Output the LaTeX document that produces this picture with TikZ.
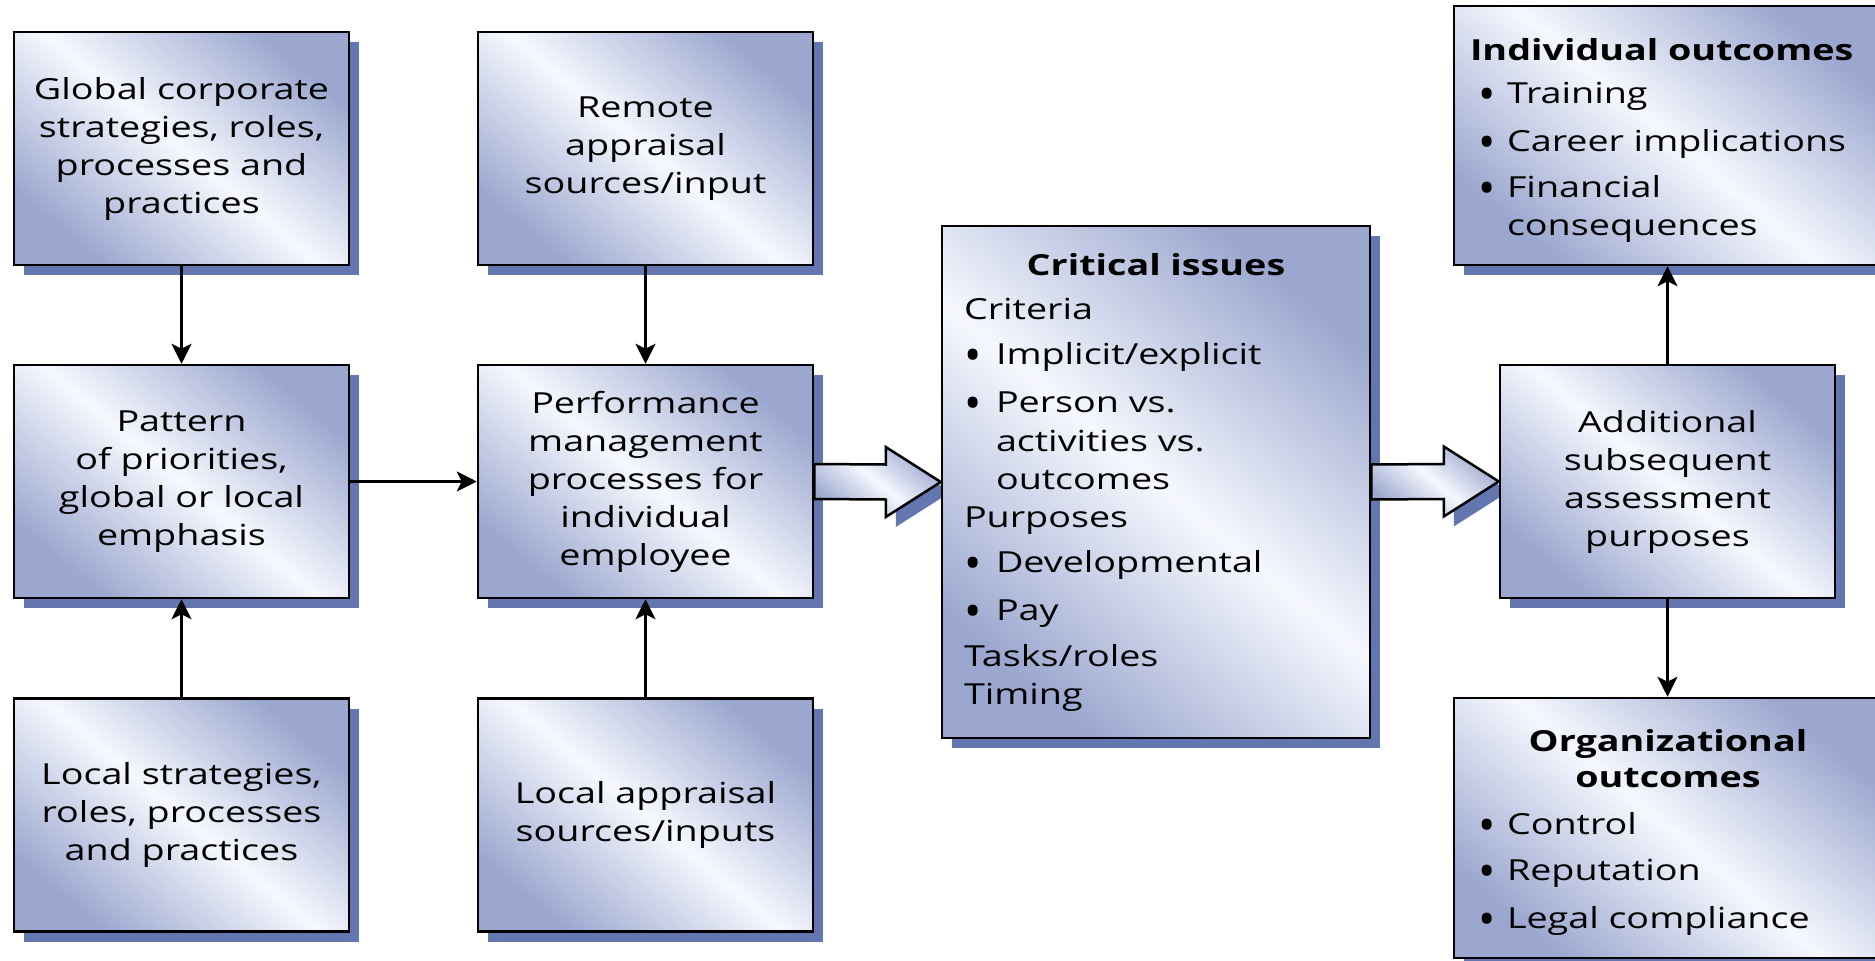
\documentclass[tikz,border=0pt]{standalone}
\usepackage{fontspec}
\setmainfont{Open Sans}[FakeStretch=1.3]
\newfontfamily\bulletfont{Open Sans}
\usetikzlibrary{arrows.meta,shadows,calc}

\definecolor{boxblue}{RGB}{155,167,207}
\definecolor{boxlight}{RGB}{246,248,254}
\definecolor{shadowblue}{RGB}{99,118,176}

\newcommand\boxfont{\fontsize{29}{38}\selectfont}
% round bullet mark, set in an unstretched font
\newcommand\bulletmark{\raisebox{-7pt}{\bulletfont\fontsize{46}{38}\selectfont\textbullet}}
% bullet with a left offset and a fixed hanging width
\newcommand\bul[2]{\hspace*{#1}\makebox[#2][l]{\bulletmark}}
% first line with extra room above it
\newcommand\tallline[2]{\raisebox{0pt}[\dimexpr\height+#1\relax]{#2}}

\tikzset{
  shadedfill/.style={left color=boxblue, right color=boxblue,
    middle color=boxlight, shading angle=-40},
  panel/.style={shadedfill, draw=black, line width=2.5pt,
    drop shadow={shadow xshift=10pt, shadow yshift=-10pt,
      fill=shadowblue, opacity=1},
    inner sep=0pt, minimum width=335pt, minimum height=233pt,
    font=\boxfont, align=center, text=black},
  widepanel/.style={panel, minimum width=428pt, text width=#1, align=left},
  conn/.style={line width=2.5pt, -{Stealth[length=20pt,width=20pt,inset=5pt]}},
  blockarrow/.style={shadedfill, draw=black, line width=2.5pt, line join=miter},
}

\begin{document}
\begin{tikzpicture}[x=1pt, y=-1pt]
\useasboundingbox (0,0) rectangle (1875,961);

% left column
\node[panel] (A1) at (181.5,148.5) {Global corporate\\strategies, roles,\\processes and\\practices};
\node[panel] (A2) at (181.5,481.5) {Pattern\\of priorities,\\global or local\\emphasis};
\node[panel] (A3) at (181.5,815) {Local strategies,\\roles, processes\\and practices};

% second column
\node[panel] (B1) at (645.5,148.5) {Remote\\appraisal\\sources/input};
\node[panel] (B2) at (645.5,481.5) {Performance\\management\\processes for\\individual\\employee};
\node[panel] (B3) at (645.5,815) {Local appraisal\\sources/inputs};

\draw[conn] (A1) -- (A2);
\draw[conn] (A3) -- (A2);
\draw[conn] (B1) -- (B2);
\draw[conn] (B3) -- (B2);
\draw[conn] (A2) -- (B2);

% critical issues
\node[widepanel=384pt, minimum height=512pt] (crit) at (1156,482) {%
\makebox[384pt]{\bfseries Critical issues}\\[6pt]
Criteria\\[7pt]
\bul{0pt}{32pt}Implicit/explicit\\[10pt]
\bul{0pt}{32pt}Person vs.\\[1pt]
\hspace*{32pt}activities vs.\\
\hspace*{32pt}outcomes\\
Purposes\\[7pt]
\bul{0pt}{32pt}Developmental\\[10pt]
\bul{0pt}{32pt}Pay\\[8pt]
Tasks/roles\\
Timing};

% block arrow into the critical issues
\begin{scope}
  \clip ($(B2.east)+(0,-60)$) rectangle ($(crit.west)+(0,70)$);
  \fill[shadowblue] ($(crit.west)+(-45,-25)$) -- ($(crit.west)+(10,10)$) -- ($(crit.west)+(-45,45)$) -- cycle;
\end{scope}
\path[blockarrow] ($(B2.east)+(0,-17.5)$) -- ($(crit.west)+(-55,-17.5)$)
  -- ($(crit.west)+(-55,-35)$) -- (crit.west) -- ($(crit.west)+(-55,35)$)
  -- ($(crit.west)+(-55,17.5)$) -- ($(B2.east)+(0,17.5)$) -- cycle;

% right column
\node[panel] (add) at (1667.5,481.5) {Additional\\subsequent\\assessment\\purposes};

\begin{scope}
  \clip ($(crit.east)+(0,-60)$) rectangle ($(add.west)+(0,70)$);
  \fill[shadowblue] ($(add.west)+(-45,-25)$) -- ($(add.west)+(10,10)$) -- ($(add.west)+(-45,45)$) -- cycle;
\end{scope}
\path[blockarrow] ($(crit.east)+(0,-17.5)$) -- ($(add.west)+(-55,-17.5)$)
  -- ($(add.west)+(-55,-35)$) -- (add.west) -- ($(add.west)+(-55,35)$)
  -- ($(add.west)+(-55,17.5)$) -- ($(crit.east)+(0,17.5)$) -- cycle;

\node[widepanel=396pt, minimum height=259pt] (ind) at (1668,135.5) {%
\tallline{10pt}{\textbf{Individual outcomes}}\\[5pt]
\bul{8pt}{29pt}Training\\[10pt]
\bul{8pt}{29pt}Career implications\\[8pt]
\bul{8pt}{29pt}Financial\\
\hspace*{37pt}consequences};

\node[widepanel=396pt, minimum height=260pt] (org) at (1668,828) {%
\tallline{8pt}{\makebox[396pt]{\bfseries Organizational}}\\[-2pt]
\makebox[396pt]{\bfseries outcomes}\\[9pt]
\bul{8pt}{29pt}Control\\[8pt]
\bul{8pt}{29pt}Reputation\\[10pt]
\bul{8pt}{29pt}Legal compliance};

\draw[conn] (add.north) -- (add.north |- ind.south);
\draw[conn] (add.south) -- (add.south |- org.north);
\end{tikzpicture}
\end{document}
